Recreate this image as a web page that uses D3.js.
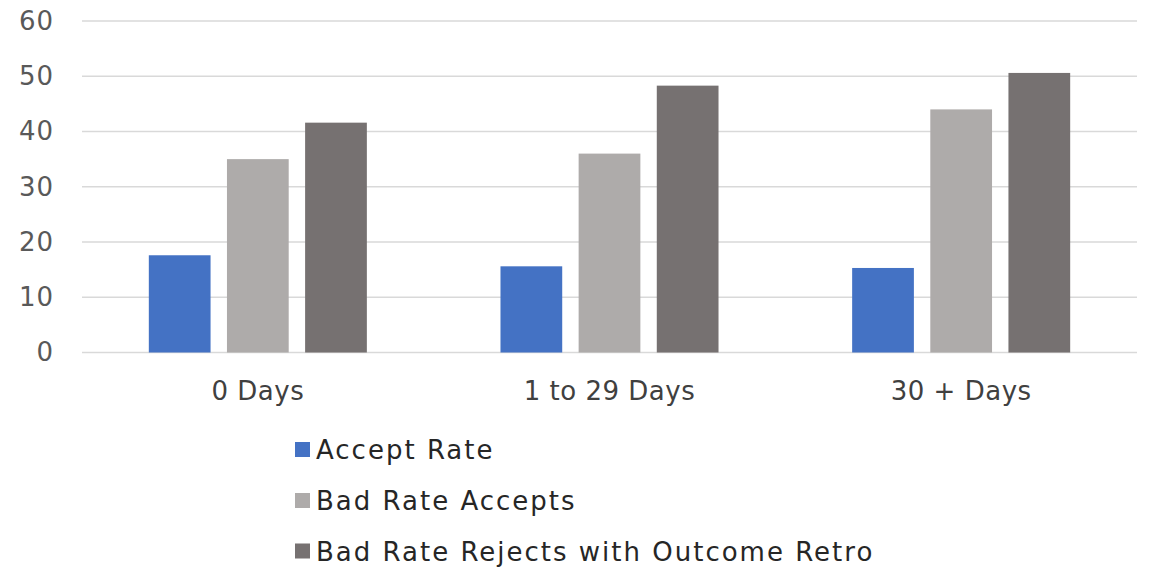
<!DOCTYPE html>
<html>
<head>
<meta charset="utf-8">
<script src="https://cdn.jsdelivr.net/npm/d3@7/dist/d3.min.js"></script>
<style>
  html, body { margin: 0; padding: 0; background: #fff; }
  svg { display: block; font-family: "DejaVu Sans", sans-serif; }
</style>
</head>
<body>
<svg id="chart" width="1150" height="568"></svg>
<script>
// Chart data
const categories = ["0 Days", "1 to 29 Days", "30 + Days"];
const seriesNames = ["Accept Rate", "Bad Rate Accepts", "Bad Rate Rejects with Outcome Retro"];
const acceptRate = [17.6, 15.6, 15.3];
const badRateAccepts = [35.0, 36.0, 44.0];
const badRateRejects = [41.6, 48.3, 50.6];
const yTicks = [0, 10, 20, 30, 40, 50, 60];
const colors = ["#4472C4", "#AEABAA", "#767171"];

const seriesValues = [acceptRate, badRateAccepts, badRateRejects];

const svg = d3.select("#chart");
const margin = { left: 82, right: 13, top: 21, bottom: 215.5 };
const width = 1150 - margin.left - margin.right;
const height = 568 - margin.top - margin.bottom;

const g = svg.append("g").attr("transform", `translate(${margin.left},${margin.top})`);

const x0 = d3.scaleBand().domain(categories).range([0, width]).paddingInner(0).paddingOuter(0);
const x1 = d3.scaleBand().domain(d3.range(seriesNames.length))
  .range([x0.bandwidth() * 0.19, x0.bandwidth() * 0.81]).paddingInner(0.21);
const y = d3.scaleLinear().domain([0, 60]).range([height, 0]);

// Horizontal gridlines
g.append("g")
  .selectAll("line")
  .data(yTicks)
  .join("line")
  .attr("x1", 0).attr("x2", width)
  .attr("y1", d => y(d)).attr("y2", d => y(d))
  .attr("stroke", "#D9D9D9").attr("stroke-width", 1.5);

// Y axis labels
const yAxis = d3.axisLeft(y).tickValues(yTicks).tickSize(0).tickPadding(0);
g.append("g")
  .attr("transform", "translate(-28,0)")
  .call(yAxis)
  .call(s => s.select(".domain").remove())
  .selectAll("text")
  .attr("fill", "#595959")
  .style("font-size", "26px")
  .style("letter-spacing", "1px")
  .style("font-family", "'DejaVu Sans', sans-serif");

// Bars
const groups = g.append("g")
  .selectAll("g")
  .data(categories)
  .join("g")
  .attr("transform", d => `translate(${x0(d)},0)`);

groups.selectAll("rect")
  .data((c, ci) => seriesValues.map((vals, si) => ({ si, v: vals[ci] })))
  .join("rect")
  .attr("x", d => x1(d.si))
  .attr("width", x1.bandwidth())
  .attr("y", d => y(d.v))
  .attr("height", d => y(0) - y(d.v))
  .attr("fill", d => colors[d.si]);

// Category axis labels
const xAxis = d3.axisBottom(x0).tickSize(0).tickPadding(0);
g.append("g")
  .attr("transform", `translate(0,${height + 29})`)
  .call(xAxis)
  .call(s => s.select(".domain").remove())
  .selectAll("text")
  .attr("fill", "#404040")
  .style("font-size", "26px")
  .style("letter-spacing", "0.5px")
  .style("font-family", "'DejaVu Sans', sans-serif");

// Legend
const legend = svg.append("g").attr("transform", "translate(295,0)");
const rowBase = [459, 510, 560.5];
const items = legend.selectAll("g")
  .data(seriesNames)
  .join("g")
  .attr("transform", (d, i) => `translate(0,${rowBase[i]})`);
items.append("rect")
  .attr("x", 0).attr("y", -17)
  .attr("width", 15).attr("height", 15)
  .attr("fill", (d, i) => colors[i]);
items.append("text")
  .attr("x", 21).attr("y", 0)
  .attr("fill", "#262626")
  .style("font-size", "26px")
  .style("letter-spacing", "2px")
  .text(d => d);
</script>
</body>
</html>
